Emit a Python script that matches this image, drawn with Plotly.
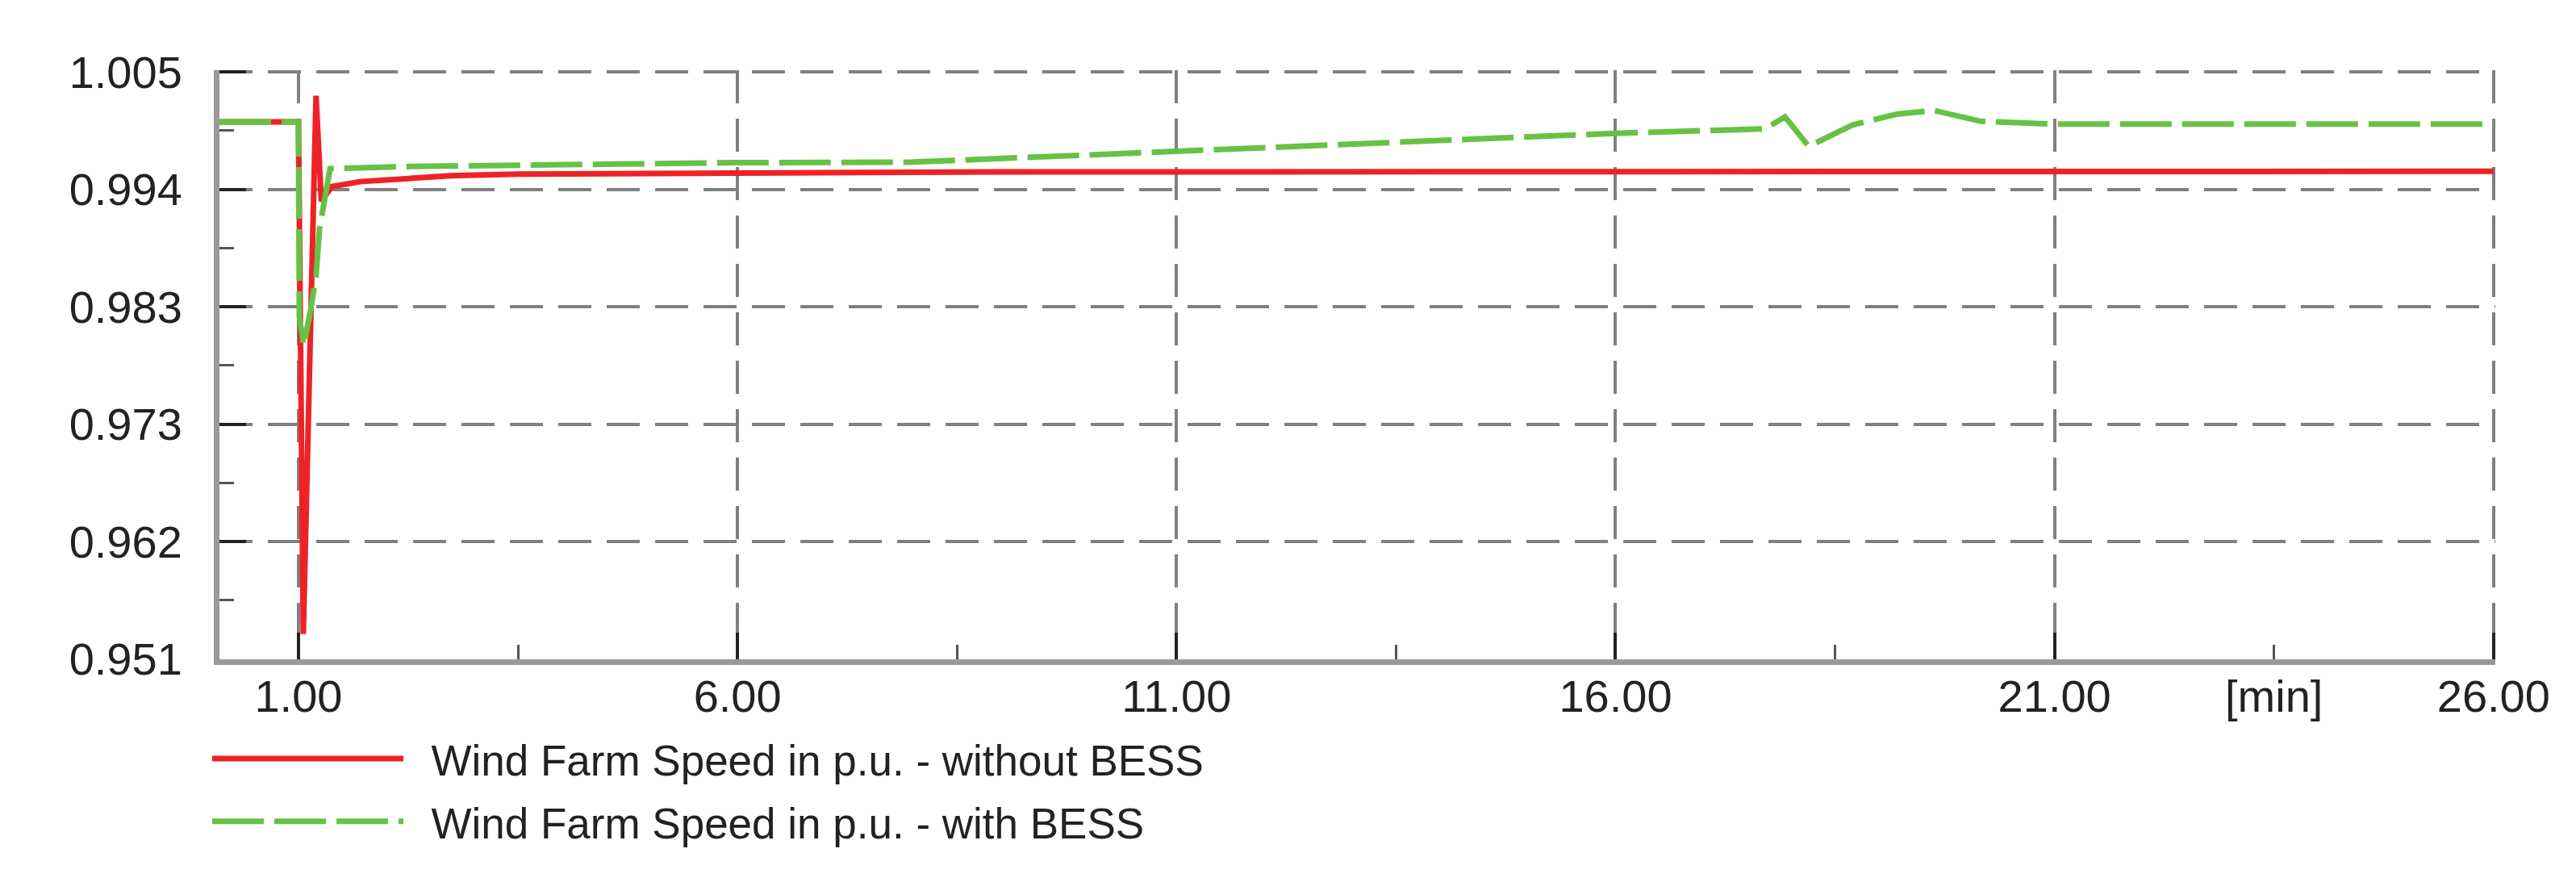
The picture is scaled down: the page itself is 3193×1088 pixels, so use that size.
"""
Wind farm speed (p.u.) with and without BESS
"""
import plotly.graph_objects as go

# time axis [min] and speed values
t_without = [0.1, 1.0, 1.055, 1.2, 1.26, 1.38, 1.7, 2.27, 2.73, 3.5, 5.0, 6.9, 9.0, 26.0]
speed_without = [1.0004, 1.0004, 0.9533, 1.0028, 0.9931, 0.99445, 0.9949, 0.9952, 0.99545,
                 0.9956, 0.99568, 0.9957, 0.9958, 0.99585]

t_with = [0.1, 1.0, 1.01, 1.06, 1.14, 1.2, 1.24, 1.31, 1.36, 2.3, 4.0, 6.0, 8.0, 10.0, 12.0,
          14.0, 16.0, 17.7, 17.93, 18.2, 18.7, 19.2, 19.63, 20.16, 20.6, 21.0, 26.0]
speed_with = [1.0004, 1.0004, 0.9825, 0.9798, 0.9832, 0.9862, 0.9906, 0.9941, 0.9961, 0.9963,
              0.9965, 0.99665, 0.9967, 0.99735, 0.9980, 0.99868, 0.99935, 0.99975, 1.00086,
              0.99815, 1.00012, 1.0011, 1.00145, 1.00045, 1.00028, 1.0002, 1.0002]

series_names = ['Wind Farm Speed in p.u. - without BESS', 'Wind Farm Speed in p.u. - with BESS']

x_ticks = [1, 6, 11, 16, 21, 26]
x_unit = '[min]'

FONT = 'Liberation Sans, Arial, sans-serif'
GRID = '#808080'
PAD = '\u00a0\u00a0'  # small gap between legend line and text

fig = go.Figure([
    go.Scatter(
        x=t_without, y=speed_without, mode='lines',
        line=dict(color='#ee2226', width=7),
        name=PAD + series_names[0], legendgroup='a'
    ),
    go.Scatter(
        x=t_with, y=speed_with, mode='lines',
        line=dict(color='#66c244', width=7, dash='64px,13px'),
        name=PAD + series_names[1], legendgroup='b'
    ),
])

fig.update_xaxes(
    range=[0.1, 26.02],
    tickmode='array', tickvals=x_ticks, ticktext=[f'{v:.2f}' for v in x_ticks],
    ticks='inside', ticklen=33, tickwidth=4, tickcolor='#222',
    minor=dict(ticks='inside', ticklen=18, tickwidth=3, tickcolor='#555',
               tickmode='array', tickvals=[3.5, 8.5, 13.5, 18.5, 23.5], showgrid=False),
    showgrid=True, gridcolor=GRID, gridwidth=4, griddash='41px,19px',
    showline=True, linecolor='#9a9a9a', linewidth=7,
    zeroline=False, ticklabelstandoff=-9,
    tickfont=dict(family=FONT, size=56, color='#222'),
)

fig.update_yaxes(
    range=[0.95098, 1.00515],
    tickmode='linear', tick0=0.951, dtick=0.0108, tickformat='.3f',
    ticks='inside', ticklen=33, tickwidth=4, tickcolor='#222',
    minor=dict(ticks='inside', ticklen=18, tickwidth=3, tickcolor='#555',
               tick0=0.951, dtick=0.0054, showgrid=False),
    showgrid=True, gridcolor=GRID, gridwidth=4, griddash='41px,19px',
    showline=True, linecolor='#9a9a9a', linewidth=7,
    zeroline=False, ticklabelstandoff=28,
    tickfont=dict(family=FONT, size=56, color='#222'),
)

# unit label sits on the x axis between 21 and 26
fig.add_annotation(
    x=23.5, xref='x', y=0, yref='paper', yanchor='top', yshift=-12,
    text=x_unit, showarrow=False,
    font=dict(family=FONT, size=56, color='#222'),
)

fig.update_layout(
    width=3193, height=1088,
    margin=dict(l=264, r=108, t=79, b=279, autoexpand=False),
    plot_bgcolor='white', paper_bgcolor='white',
    showlegend=True,
    legend=dict(
        xref='container', yref='container',
        x=250 / 3193, y=1 - 891 / 1088, xanchor='left', yanchor='top',
        font=dict(family=FONT, size=53, color='#222'),
        itemwidth=237, tracegroupgap=6,
        bgcolor='rgba(0,0,0,0)',
    ),
)

fig.write_html('out.html')
